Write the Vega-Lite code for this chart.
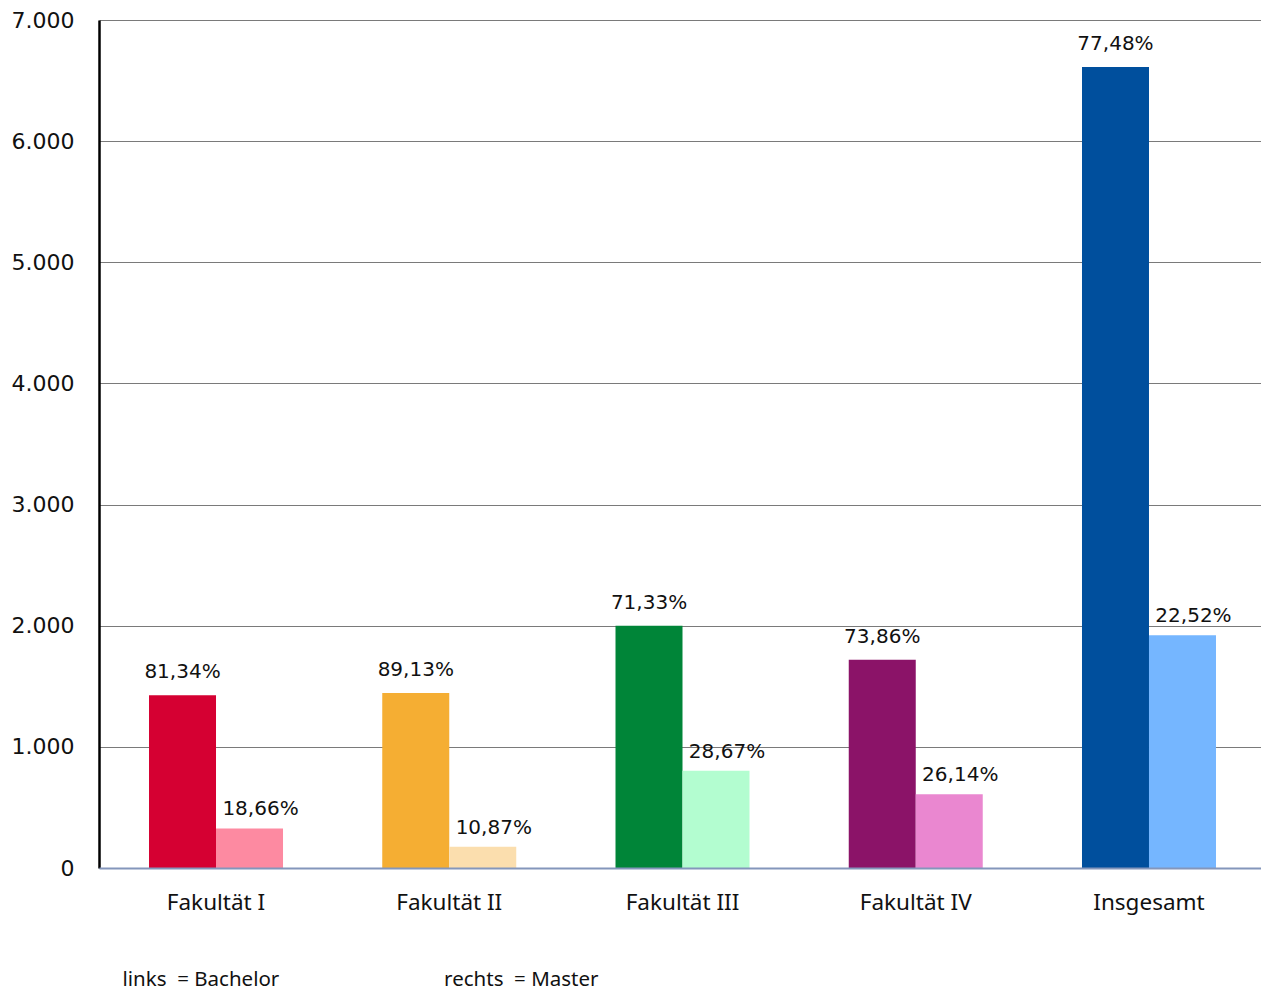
{
  "$schema": "https://vega.github.io/schema/vega-lite/v6.json",
  "width": 1167,
  "height": 848,
  "autosize": "none",
  "padding": {"left": 99, "top": 20, "right": 0, "bottom": 123},
  "data": {
    "values": [
      {"fak": "Fakultät I", "art": "Bachelor", "id": "I-B", "n": 1425, "anteil": 0.8134},
      {"fak": "Fakultät I", "art": "Master", "id": "I-M", "n": 327, "anteil": 0.1866},
      {"fak": "Fakultät II", "art": "Bachelor", "id": "II-B", "n": 1445, "anteil": 0.8913},
      {"fak": "Fakultät II", "art": "Master", "id": "II-M", "n": 176, "anteil": 0.1087},
      {"fak": "Fakultät III", "art": "Bachelor", "id": "III-B", "n": 1999, "anteil": 0.7133},
      {"fak": "Fakultät III", "art": "Master", "id": "III-M", "n": 803, "anteil": 0.2867},
      {"fak": "Fakultät IV", "art": "Bachelor", "id": "IV-B", "n": 1720, "anteil": 0.7386},
      {"fak": "Fakultät IV", "art": "Master", "id": "IV-M", "n": 609, "anteil": 0.2614},
      {"fak": "Insgesamt", "art": "Bachelor", "id": "G-B", "n": 6612, "anteil": 0.7748},
      {"fak": "Insgesamt", "art": "Master", "id": "G-M", "n": 1922, "anteil": 0.2252}
    ]
  },
  "encoding": {
    "x": {
      "field": "fak",
      "type": "nominal",
      "sort": null,
      "scale": {"paddingInner": 0.4255, "paddingOuter": 0.2144},
      "axis": {
        "title": "links\u00a0\u00a0= Bachelor\u2003\u2003\u2003\u2003\u2003\u2003\u2003\u00a0\u00a0\u00a0\u00a0rechts\u00a0\u00a0= Master",
        "titleAnchor": "start",
        "titleAlign": "left",
        "titleX": 23,
        "titleY": 117,
        "titleBaseline": "alphabetic",
        "titleFontSize": 20.5,
        "titleFontWeight": "normal",
        "titleColor": "#111111",
        "labelAngle": 0,
        "labelFontSize": 22.5,
        "labelColor": "#111111",
        "labelPadding": 23,
        "ticks": false,
        "grid": false,
        "domainColor": "#8496bb",
        "domainWidth": 2,
        "zindex": 1
      }
    },
    "xOffset": {"field": "art", "type": "nominal", "scale": {"paddingInner": 0, "paddingOuter": 0}},
    "y": {
      "field": "n",
      "type": "quantitative",
      "scale": {"domain": [0, 7000], "nice": false},
      "axis": {
        "title": null,
        "values": [0, 1000, 2000, 3000, 4000, 5000, 6000, 7000],
        "format": ",d",
        "labelFont": "DejaVu Sans",
        "labelFontSize": 22,
        "labelColor": "#111111",
        "labelPadding": 25,
        "ticks": false,
        "grid": true,
        "gridColor": "#7a7a7a",
        "gridWidth": 1.2,
        "domainColor": "#000000",
        "domainWidth": 2.5
      }
    }
  },
  "layer": [
    {
      "mark": {"type": "bar"},
      "encoding": {
        "color": {
          "field": "id",
          "type": "nominal",
          "legend": null,
          "scale": {
            "domain": ["I-B", "I-M", "II-B", "II-M", "III-B", "III-M", "IV-B", "IV-M", "G-B", "G-M"],
            "range": ["#d50032", "#fd8aa1", "#f5ae33", "#fbdeae", "#008538", "#b3fdd0", "#8b1368", "#ea87d0", "#004f9d", "#75b6ff"]
          }
        }
      }
    },
    {
      "transform": [{"filter": "datum.art === 'Bachelor'"}],
      "mark": {"type": "text", "baseline": "alphabetic", "dy": -17, "font": "DejaVu Sans", "fontSize": 20, "color": "#111111"},
      "encoding": {"text": {"field": "anteil", "type": "quantitative", "format": ".2%"}}
    },
    {
      "transform": [{"filter": "datum.art === 'Master'"}],
      "mark": {"type": "text", "baseline": "alphabetic", "dy": -13, "dx": 11, "font": "DejaVu Sans", "fontSize": 20, "color": "#111111"},
      "encoding": {"text": {"field": "anteil", "type": "quantitative", "format": ".2%"}}
    }
  ],
  "config": {
    "font": "Noto Sans",
    "view": {"stroke": null},
    "locale": {"number": {"decimal": ",", "thousands": ".", "grouping": [3], "currency": ["", " €"]}}
  }
}
